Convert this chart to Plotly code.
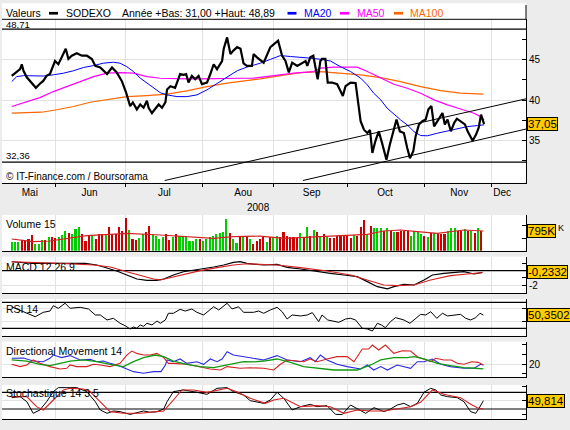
import pandas as pd
import plotly.graph_objects as go

# ------------------------------------------------------------------ data
STOCK = "SODEXO"
YEAR_LOW_TXT, YEAR_HIGH_TXT = "31,00", "48,89"
PERIOD_HIGH = 48.71
PERIOD_LOW = 32.36

# trading-day calendar of the axis (data runs 2008-05-14 .. 2008-11-26)
CALENDAR = pd.bdate_range("2008-05-14", "2008-12-05")
MONTH_NAMES = ["Mai", "Jun", "Jul", "Aou", "Sep", "Oct", "Nov", "Dec"]
MONTH_LABEL_POS = [5.4, 23.2, 45.5, 69.0, 89.4, 111.3, 133.4, 146.2]
YEAR_LABEL = "2008"

# closing price (trading-day index, value)
PRICE_DAY = [0, 1, 2.5, 3, 3.5, 4.5, 6, 7.2, 8.4, 9.4, 10.4, 11.4, 12.9, 13.9, 14.9, 16.1,
             16.9, 17.9, 19.4, 20.9, 22.4, 23.9, 24.9, 26.4, 28.4, 29.9, 31.3, 32.8, 34.1,
             35.3, 36.1, 37.3, 38.3, 39.3, 40.3, 40.8, 41.8, 43.1, 43.8, 44.8, 45.8, 46.3,
             47.3, 48.7, 50.2, 51.2, 52, 52.7, 53.7, 54.7, 55.7, 56.7, 58.2, 59.2, 60.2,
             61.2, 62.7, 63.2, 64.2, 65.2, 66, 67.2, 68.2, 69.1, 70.1, 71.6, 72.1, 73.1,
             75.1, 77.1, 79.4, 80.6, 81.6, 82.6, 83.6, 85.1, 86.6, 87.6, 88.1, 89, 89.9,
             90.6, 91.2, 92, 92.5, 93.5, 94.2, 95.5, 97, 98, 98.7, 99.5, 101, 102.5, 103.2,
             104, 105, 106, 106.8, 107.5, 108.4, 109.4, 110.4, 111.7, 112.7, 113.7, 114.7,
             115.7, 116.9, 117.9, 118.7, 119.7, 120.4, 121.4, 122.4, 123.4, 124.2, 125.1,
             125.9, 126.9, 128.4, 129.1, 129.9, 130.9, 131.9, 132.7, 133.9, 135.1, 135.9,
             137.4, 138.4, 139.2, 139.9, 140.4, 140.8]
PRICE = [42.97, 43.27, 43.8, 44.4, 43.6, 42.8, 42.15, 41.5, 42.0, 42.35, 42.97, 43.2, 44.8,
         44.4, 45.25, 46.3, 45.05, 45.45, 45.75, 45.45, 45.45, 45.05, 44.2, 44.0, 43.2, 44.0,
         43.4, 42.35, 40.9, 39.25, 39.7, 38.85, 39.45, 39.05, 39.9, 39.05, 38.4, 39.05,
         39.45, 39.05, 39.7, 41.3, 41.7, 41.5, 43.2, 43.1, 43.2, 42.15, 42.97, 42.55, 42.97,
         41.95, 42.15, 43.2, 44.4, 43.8, 44.8, 46.3, 47.7, 45.65, 46.05, 46.5, 46.3, 44.5,
         44.2, 44.2, 45.65, 45.25, 44.6, 46.5, 47.3, 45.45, 44.8, 43.4, 44.6, 44.2, 44.6,
         44.8, 44.2, 45.25, 45.45, 44.0, 42.55, 44.8, 45.05, 45.05, 42.15, 42.15, 41.95,
         41.1, 40.5, 41.7, 42.15, 42.1, 39.9, 37.4, 36.35, 35.95, 36.3, 33.5, 34.95, 36.15,
         34.7, 32.65, 34.5, 36.15, 37.6, 36.15, 35.95, 34.1, 32.85, 33.7, 35.55, 37.0, 37.4,
         37.6, 38.85, 39.25, 36.75, 37.4, 38.4, 37.0, 37.6, 36.15, 37.2, 37.7, 37.4, 37.0,
         36.15, 35.0, 35.75, 36.6, 38.2, 37.6, 37.05]

MA20_DAY = [0, 1.5, 3.5, 6.4, 9.4, 12.4, 15.4, 18.4, 21.4, 24.4, 27.3, 30.3, 32.3, 34.3, 36.3,
            38.3, 40.3, 42.3, 44.3, 46.3, 49.3, 52.2, 55.2, 58.2, 61.2, 64.2, 67.2, 70.1,
            74.1, 77.1, 80.1, 83.1, 86.1, 89, 92, 95, 98, 101, 104, 106, 107.9, 110, 111.9,
            113.9, 115.9, 117.9, 119.9, 121.9, 123.9, 126.9, 129.9, 132.8, 135.8, 138.8, 140.8]
MA20 = [42.27, 42.88, 43.0, 43.0, 42.95, 43.1, 43.3, 43.6, 44.0, 44.24, 44.53, 44.65, 44.53,
        44.1, 43.5, 42.7, 42.07, 41.46, 40.9, 40.63, 40.42, 40.42, 40.63, 41.25, 42.07, 42.88,
        43.6, 44.05, 44.53, 45.0, 45.47, 45.35, 45.27, 45.15, 45.02, 44.8, 44.1, 43.5, 42.7,
        41.86, 40.84, 40.02, 39.0, 38.26, 37.56, 36.94, 36.12, 35.63, 35.6, 35.92, 36.2,
        36.54, 36.73, 36.86, 36.95]

MA50_DAY = [0, 4.5, 8.4, 12.4, 16.4, 20.4, 24.4, 28.4, 32.3, 36.3, 40.3, 44.3, 48.2, 52.2,
            56.2, 60.2, 64.2, 68.1, 72.1, 78.1, 84.1, 90, 92, 96, 103, 106, 110, 113.9, 117.9,
            121.9, 125.9, 129.9, 133.8, 137.8, 139.8, 140.8]
MA50 = [39.2, 39.81, 40.3, 41.04, 41.65, 42.27, 42.88, 43.3, 43.38, 43.3, 42.88, 42.68, 42.6,
        42.6, 42.6, 42.6, 42.6, 42.68, 42.7, 43.0, 43.3, 43.5, 43.92, 44.04, 44.04, 43.5,
        42.68, 41.94, 41.45, 40.84, 40.02, 39.4, 38.9, 38.38, 37.96, 37.56]

MA100_DAY = [0, 8.9, 13.4, 18.4, 23.4, 28.4, 34.3, 40.3, 46.3, 52.2, 58.2, 64.2, 71.1, 74.1,
             80.1, 86.1, 92, 98, 104, 110, 115.9, 121.9, 127.9, 133.8, 137.8, 140.6]
MA100 = [38.38, 38.5, 38.8, 39.2, 39.73, 40.02, 40.42, 40.55, 40.72, 41.13, 41.65, 42.07,
         42.4, 42.6, 43.0, 43.38, 43.5, 43.3, 43.1, 42.76, 42.27, 41.65, 41.16, 40.84,
         40.72, 40.72]

# support / resistance channel drawn on the price panel (day, price)
CHANNEL_UPPER_DAY, CHANNEL_UPPER = [45.6, 153.3], [30.1, 40.15]
CHANNEL_LOWER_DAY, CHANNEL_LOWER = [86.8, 153.3], [30.1, 36.43]

# daily volume in thousands of shares, 1 = up day (green), 0 = down day (red)
VOLUME_K = [366, 366, 366, 433, 433, 460, 636, 271, 271, 433, 433, 541, 541, 501, 568, 636,
            811, 703, 676, 865, 973, 676, 406, 595, 636, 460, 676, 676, 676, 973, 676, 676,
            973, 811, 1311, 838, 460, 433, 501, 676, 771, 1000, 676, 595, 460, 541, 676, 433,
            568, 676, 595, 595, 568, 406, 406, 460, 460, 406, 460, 541, 595, 676, 730, 771,
            1270, 730, 460, 325, 541, 595, 541, 460, 271, 406, 460, 568, 366, 541, 568, 595,
            568, 771, 595, 568, 541, 501, 703, 501, 973, 595, 838, 771, 568, 676, 568, 501,
            501, 595, 636, 636, 595, 501, 636, 595, 973, 1243, 676, 1000, 906, 906, 906, 811,
            906, 811, 771, 771, 811, 811, 811, 595, 811, 771, 676, 595, 541, 730, 730, 676,
            676, 676, 811, 906, 906, 811, 811, 865, 811, 811, 730, 906, 795]
VOLUME_UP = [1, 1, 1, 0, 0, 0, 0, 1, 1, 1, 0, 1, 0, 0, 1, 1, 1, 0, 1, 1, 1, 0, 0, 0, 1, 0, 0,
             0, 1, 0, 0, 0, 0, 0, 0, 1, 0, 0, 1, 1, 0, 0, 1, 1, 1, 1, 0, 0, 1, 0, 1, 1, 1, 1,
             1, 1, 0, 1, 1, 1, 1, 1, 1, 1, 1, 0, 1, 1, 0, 1, 0, 1, 0, 0, 0, 0, 1, 0, 1, 1, 0,
             0, 0, 0, 0, 0, 1, 0, 1, 0, 1, 0, 1, 0, 1, 0, 0, 0, 0, 0, 0, 0, 1, 0, 0, 0, 1, 0,
             1, 1, 1, 0, 1, 0, 1, 0, 0, 0, 0, 1, 1, 1, 1, 0, 1, 0, 1, 0, 0, 0, 1, 1, 1, 0, 0,
             1, 0, 1, 0, 1, 0]
VOL_MA_DAY = [0, 6.4, 11.4, 16.4, 22.4, 29.3, 34.3, 44.3, 52.2, 60.2, 66.1, 74.1, 81.1, 91,
              99, 106, 110.9, 115.9, 120.9, 126.9, 134.8, 140.6]
VOL_MA_K = [473, 364, 393, 500, 607, 664, 704, 636, 567, 500, 567, 590, 500, 567, 607, 664,
            797, 838, 770, 703, 838, 797]

MACD_DAY = [0, 2.5, 6.4, 11.4, 16.4, 21.9, 25.4, 28.4, 31.3, 34.3, 37.3, 40.3, 43.3, 45.3,
            48.2, 51.2, 54.2, 57.2, 60.2, 63.2, 66.1, 68.1, 70.1, 72.1, 75.1, 79.1, 82.1,
            86.1, 91, 95, 99, 103, 106, 109, 112, 113.9, 116.9, 119.9, 122.9, 125.4, 128.8,
            132.8, 134.8, 137.8, 140.3]
MACD = [1.23, 1.15, 1.01, 1.01, 1.01, 1.01, 0.78, 0.41, -0.04, -0.59, -1.14, -1.32, -1.32,
        -1.14, -0.59, -0.14, 0.05, 0.23, 0.51, 0.78, 1.15, 1.23, 1.01, 0.9, 0.78, 0.87, 0.46,
        0.23, -0.04, -0.36, -0.59, -0.82, -1.5, -2.19, -2.5, -2.19, -1.87, -1.96, -1.27,
        -0.59, -0.36, -0.27, -0.14, -0.45, -0.2332]
SIGNAL_DAY = [0, 6.4, 16.4, 24.4, 29.4, 34.3, 38.3, 42.3, 44.3, 48.2, 52.2, 56.2, 61.2, 66.1,
              70.1, 74.1, 79.1, 86.1, 94, 101, 106, 110.9, 114.9, 119.9, 124.9, 130.8, 135.8,
              140.3]
SIGNAL = [1.23, 1.15, 0.96, 0.78, 0.51, -0.14, -0.68, -1.14, -1.27, -0.82, -0.36, 0.0, 0.41,
          0.78, 0.95, 0.87, 0.78, 0.41, -0.04, -0.59, -1.27, -1.96, -2.05, -1.96, -1.27,
          -0.68, -0.45, -0.27]

RSI_DAY = [0, 3.5, 7, 9.4, 11.4, 12.4, 13.9, 15.9, 17.4, 20.4, 22.9, 24.9, 26.4, 28.4, 30.3,
           32.3, 33.8, 35.3, 36.3, 37.3, 38.3, 39.3, 40.3, 41.8, 43.3, 44.3, 45.8, 46.7, 48.2,
           50.2, 51.7, 53.7, 55.2, 57.2, 58.7, 60.2, 61.7, 64.2, 65.7, 67.6, 69.1, 72.1,
           73.6, 75.1, 77.1, 79.1, 80.6, 82.1, 83.6, 86.1, 88.1, 89.6, 91.5, 92.5, 94.2,
           97.5, 99.5, 101, 102.5, 104.5, 106, 107.5, 109, 110.2, 111.4, 112.9, 114.4, 116.9,
           118.7, 120.4, 121.9, 123.4, 124.9, 126.7, 128.4, 129.9, 133.8, 135.3, 136.8,
           138.3, 139.6, 140.6]
RSI = [63.2, 55.5, 47.8, 54.6, 56.6, 64.8, 60.8, 68.5, 60.8, 62.3, 59.7, 50.5, 50.5, 42.8,
       45.4, 37.7, 34.0, 28.9, 32.0, 30.0, 35.1, 33.0, 37.7, 35.1, 41.2, 37.7, 42.8, 53.1,
       53.1, 59.2, 56.6, 59.7, 54.6, 50.5, 56.6, 63.2, 58.2, 68.5, 59.7, 63.2, 54.6, 54.6,
       56.6, 53.1, 58.2, 62.3, 55.5, 44.3, 50.5, 49.0, 50.5, 54.1, 40.2, 50.5, 42.8, 39.2,
       44.3, 45.4, 42.8, 30.0, 29.0, 25.8, 37.7, 35.1, 31.0, 40.2, 46.4, 42.8, 37.7, 45.4,
       51.5, 50.5, 55.5, 45.4, 53.1, 49.0, 51.5, 45.4, 42.8, 46.4, 53.1, 50.3502]

DI_PLUS_DAY = [0, 3.5, 6.4, 9.4, 11.4, 12.4, 14.9, 17.4, 20.4, 23.4, 25.4, 27.3, 29.3, 31.3,
               33.8, 36.3, 39.3, 42.3, 44.5, 45.8, 46.3, 48.2, 50.2, 52.2, 55.2, 57.2, 59.2,
               61.2, 62.7, 64.2, 66.1, 69.1, 72.1, 75.1, 79.1, 82.1, 86.1, 89, 90.5, 92, 94,
               97, 100, 104, 106, 107.9, 110, 112, 114.9, 117.4, 118.9, 120.9, 122.9, 125.4,
               127.9, 130.8, 134.8, 137.8, 139.8, 140.6]
DI_PLUS = [26.2, 26.5, 23.4, 22.7, 26.2, 29.6, 26.9, 29.0, 24.5, 25.2, 22.7, 23.4, 21.0,
           19.3, 15.9, 12.4, 10.7, 12.4, 12.4, 19.3, 24.5, 22.7, 25.5, 21.0, 22.7, 20.0,
           25.5, 22.7, 25.5, 33.0, 29.6, 27.9, 25.5, 24.5, 29.0, 24.5, 22.7, 26.9, 22.7,
           29.6, 24.5, 20.0, 17.6, 15.2, 19.3, 14.1, 17.6, 14.1, 19.3, 17.6, 15.9, 22.7,
           22.7, 25.5, 20.0, 17.6, 15.9, 15.9, 20.0, 19.3]
DI_MINUS_DAY = [0, 2.5, 4.5, 6.4, 8.4, 11.4, 14.4, 16.4, 17.4, 19.4, 22.4, 24.4, 26.4, 29.3,
                32.3, 34.3, 35.8, 37.3, 39.3, 41.3, 43.3, 45.3, 46.7, 48.2, 52.2, 55.2, 59.2,
                62.2, 64.2, 68.1, 71.1, 75.1, 78.1, 80.1, 82.1, 85.1, 87, 89, 91, 94, 97, 100,
                102, 104.5, 106.4, 107.5, 109.4, 111.4, 113.9, 116.4, 118.9, 120.9, 122.9,
                124.9, 126.4, 128.8, 131, 132.8, 134.8, 137.1, 139.1, 140.6]
DI_MINUS = [20.0, 17.6, 19.3, 24.5, 21.0, 17.6, 15.2, 15.9, 19.3, 17.6, 17.6, 20.0, 19.3,
            17.6, 21.0, 29.6, 33.7, 31.3, 29.6, 29.6, 31.3, 26.9, 21.0, 21.0, 20.0, 17.6,
            15.2, 14.1, 17.6, 15.9, 16.5, 15.9, 14.1, 20.0, 24.5, 23.4, 22.7, 25.5, 22.7,
            25.5, 27.9, 27.9, 22.7, 35.8, 35.8, 39.9, 34.8, 39.9, 31.3, 34.1, 33.7, 27.9,
            25.5, 22.7, 26.2, 24.5, 24.5, 21.0, 20.0, 22.7, 22.0, 19.3]
ADX_DAY = [0, 4.5, 8.4, 11.4, 14.4, 17.4, 21.4, 25.4, 29.3, 33.3, 36.3, 39.3, 42.8, 45.3,
           48.2, 52.2, 56.2, 60.2, 63.2, 66.1, 69.1, 72, 75.1, 79.1, 83.1, 87, 91, 96, 103,
           107, 110, 113.9, 117.9, 119.9, 122.9, 126.9, 130.8, 134.8, 138.1, 140.6]
ADX = [24.5, 23.4, 20.0, 18.6, 21.0, 23.4, 24.5, 22.7, 20.0, 17.6, 22.7, 26.9, 29.6, 27.9,
       23.4, 20.0, 17.6, 16.6, 18.6, 21.0, 22.7, 22.5, 23.4, 25.5, 22.0, 17.6, 15.9, 14.1,
       14.1, 19.3, 24.5, 26.9, 26.9, 27.9, 25.5, 21.0, 18.6, 16.6, 15.9, 15.2]

STO_K_DAY = [0, 2.5, 4.5, 6.4, 8.4, 10.4, 12.4, 13.9, 16.4, 19.4, 22.4, 24.9, 26.4, 28.4,
             30.3, 32.3, 35.3, 37.3, 39.3, 41.3, 43.3, 45.3, 46.3, 48.2, 51.2, 54.2, 58.2,
             61.2, 64.2, 66.1, 69.1, 71.1, 73.1, 75.1, 77.1, 79.1, 81.1, 83.6, 86.1, 89, 91,
             94, 96.5, 98.5, 101, 103, 105.5, 108, 111, 112.9, 114.9, 116.9, 118.9, 120.9,
             122.9, 124.9, 126.4, 127.9, 129.9, 132.8, 134.8, 136.8, 138.3, 139.3, 140.6]
STO_K = [60.8, 64.4, 46.4, 4.5, 16.5, 46.4, 82.4, 96.8, 96.8, 96.8, 82.4, 46.4, 16.5, 4.5,
         12.9, 10.5, 0.5, 8.1, 12.9, 8.1, 10.5, 20.0, 46.4, 82.4, 88.4, 82.4, 72.8, 94.4,
         96.8, 82.4, 70.4, 50.0, 44.0, 40.4, 52.4, 80.0, 58.4, 16.5, 28.4, 36.8, 28.4, 32.0,
         1.0, 0.0, 34.4, 20.0, 4.5, 24.8, 10.5, 20.0, 34.4, 40.4, 28.4, 40.4, 80.0, 94.4,
         88.4, 70.4, 64.4, 60.8, 46.4, 10.5, 4.5, 22.4, 49.814]
STO_D_DAY = [0, 4.5, 7.4, 9.4, 12.4, 15.4, 17.4, 21.4, 23.4, 26.4, 29.3, 33.3, 38.3, 43.3,
             45.3, 48.2, 50.7, 54.2, 58.2, 64.2, 67.1, 71.1, 74.1, 75.6, 78.1, 81.1, 86.1, 91,
             95, 99, 103, 107, 111, 114.9, 118.9, 121.9, 125.4, 128.8, 133.8, 136.8, 138.8,
             140.6]
STO_D = [64.4, 64.4, 28.4, 16.5, 52.4, 88.4, 94.4, 92.0, 82.4, 46.4, 10.5, 4.5, 4.5, 10.5,
         12.9, 52.4, 88.4, 88.4, 80.0, 94.4, 82.4, 58.4, 46.4, 40.4, 52.4, 58.4, 28.4, 32.0,
         28.4, 4.5, 16.5, 12.9, 12.9, 20.0, 28.4, 44.0, 88.4, 72.8, 60.8, 36.8, 24.8, 20.0]

LAST_PRICE_TXT = "37,05"
LAST_VOLUME_TXT = "795K"
LAST_MACD_TXT = "-0,2332"
LAST_RSI_TXT = "50,3502"
LAST_STO_TXT = "49,814"

# ------------------------------------------------------------------ style
W, H = 570, 430
FONT = "Liberation Sans, Arial, sans-serif"
BG = "#ececec"
GRID = "#e2e2e2"
BADGE = "#ffcc00"
BLACK = "#000000"
BLUE = "#0000ff"
MAGENTA = "#ff00ff"
ORANGE = "#ff6600"
UP = "#00cc00"
DOWN = "#cc0000"
RED = "#d42020"
DMBLUE = "#2a2ae0"
DMGREEN = "#119911"

def fx(p):
    return p / W

def fy(p):
    return 1 - p / H

PX_L, PX_R = 2, 526
X_RANGE = [-2.9, 153.3]
PANELS = {  # top px, bottom px, y range
    "": (19.3, 182.7, [29.83, 49.93]),
    "2": (215.0, 250.7, [0, 1445]),
    "3": (256.7, 293.3, [-3.1, 1.92]),
    "4": (299.0, 335.7, [18.6, 75.1]),
    "5": (341.7, 377.3, [6.55, 43.4]),
    "6": (385.0, 419.3, [-17, 106.3]),
}

month_bounds = [i for i in range(1, len(CALENDAR))
                if CALENDAR[i].month != CALENDAR[i - 1].month]

fig = go.Figure()

def line(xs, ys, color, width, ax):
    fig.add_trace(go.Scatter(x=xs, y=ys, mode="lines", line=dict(color=color, width=width),
                             xaxis="x" + ax, yaxis="y" + ax, hoverinfo="skip"))

# reference levels drawn as lines through the axes (value, axis)
def level(val, ax):
    line(list(X_RANGE), [val, val], BLACK, 1.2, ax)

# price panel
level(PERIOD_HIGH, "")
level(PERIOD_LOW, "")
line(MA100_DAY, MA100, ORANGE, 1.2, "")
line(MA50_DAY, MA50, MAGENTA, 1.2, "")
line(MA20_DAY, MA20, BLUE, 1, "")
line(CHANNEL_UPPER_DAY, CHANNEL_UPPER, BLACK, 1, "")
line(CHANNEL_LOWER_DAY, CHANNEL_LOWER, BLACK, 1, "")
line(PRICE_DAY, PRICE, BLACK, 2.2, "")

# volume panel
fig.add_trace(go.Bar(x=list(range(len(VOLUME_K))), y=VOLUME_K, width=0.62,
                     marker=dict(color=[UP if u else DOWN for u in VOLUME_UP], line=dict(width=0)),
                     xaxis="x2", yaxis="y2", hoverinfo="skip"))
line(VOL_MA_DAY, VOL_MA_K, RED, 1.2, "2")

# MACD
level(0, "3")
line(MACD_DAY, MACD, BLACK, 1.2, "3")
line(SIGNAL_DAY, SIGNAL, RED, 1.2, "3")

# RSI
level(70, "4")
level(30, "4")
line(RSI_DAY, RSI, BLACK, 1, "4")

# directional movement
line(DI_PLUS_DAY, DI_PLUS, DMBLUE, 1.1, "5")
line(DI_MINUS_DAY, DI_MINUS, RED, 1.1, "5")
line(ADX_DAY, ADX, DMGREEN, 1.3, "5")

# stochastics
level(80, "6")
level(20, "6")
line(STO_K_DAY, STO_K, BLACK, 1, "6")
line(STO_D_DAY, STO_D, RED, 1.1, "6")

# ------------------------------------------------------------------ axes
# (tick values, tick labels, minor ticks, gridlines); labels hidden behind the
# value badges in the original are left blank
Y_TICKS = {
    "": ([35, 40, 45], ["35", "40", "45"], [32.5, 37.5, 42.5, 47.5], True),
    "2": ([1000], [""], [500], False),
    "3": ([-2, 0], ["-2", ""], [-1, 1], True),
    "4": ([40, 60], ["", ""], [], True),
    "5": ([20], ["20"], [10, 30, 40], True),
    "6": ([50], [""], [0, 100], True),
}

layout_axes = {}
for ax, (top, bottom, yr) in PANELS.items():
    main = ax == ""
    layout_axes["xaxis" + ax] = dict(
        domain=[fx(PX_L), fx(PX_R)], range=X_RANGE, anchor="y" + ax,
        showline=True, linecolor=BLACK, linewidth=1, zeroline=False, showgrid=False,
        tickmode="array", tickvals=MONTH_LABEL_POS, ticktext=MONTH_NAMES, ticks="",
        showticklabels=main, tickfont=dict(family=FONT, size=10, color=BLACK),
        minor=dict(tickmode="array", tickvals=month_bounds,
                   ticks="outside" if main else "", ticklen=3, tickcolor=BLACK,
                   showgrid=True, gridcolor=GRID, gridwidth=1),
        fixedrange=True)
    tv, tt, mv, grid = Y_TICKS[ax]
    layout_axes["yaxis" + ax] = dict(
        domain=[fy(bottom), fy(top)], range=yr, anchor="x" + ax, side="right",
        showline=True, linecolor=BLACK, linewidth=1,
        ticks="inside", ticklen=4, tickcolor=BLACK,
        tickmode="array", tickvals=tv, ticktext=tt,
        tickfont=dict(family=FONT, size=10, color=BLACK),
        showgrid=grid, gridcolor=GRID, gridwidth=1, zeroline=False,
        minor=dict(tickmode="array", tickvals=mv, ticks="inside", ticklen=4,
                   tickcolor=BLACK, showgrid=False),
        fixedrange=True)

# ------------------------------------------------------------------ shapes
shapes = [
    # header strip above the price panel
    dict(type="rect", xref="paper", yref="paper", x0=fx(PX_L), x1=fx(PX_R),
         y0=fy(19.3), y1=fy(3.3), fillcolor="white", line=dict(width=0), layer="below"),
    dict(type="line", xref="paper", yref="paper", x0=fx(PX_L), x1=fx(PX_R),
         y0=fy(19.3), y1=fy(19.3), line=dict(color=BLACK, width=1), layer="above"),
    dict(type="line", xref="paper", yref="paper", x0=fx(PX_R), x1=fx(PX_R),
         y0=fy(19.3), y1=fy(5), line=dict(color=BLACK, width=1), layer="above"),
]

# ------------------------------------------------------------------ texts
ann = []

def text(x, y, s, size=10.5, color=BLACK, xanchor="left"):
    ann.append(dict(x=fx(x), y=fy(y), xref="paper", yref="paper", text=s, showarrow=False,
                    xanchor=xanchor, yanchor="middle",
                    font=dict(family=FONT, size=size, color=color)))

# header legend
text(3.5, 13.3, "Valeurs")
text(63.5, 13.3, STOCK)
text(119.5, 13.3, "Année +Bas: %s +Haut: %s" % (YEAR_LOW_TXT, YEAR_HIGH_TXT))
text(301.5, 13.3, "MA20", color=BLUE)
text(354.5, 13.3, "MA50", color=MAGENTA)
text(408, 13.3, "MA100", color=ORANGE)
for x0, col in [(49, BLACK), (287.5, BLUE), (340, MAGENTA), (394, ORANGE)]:
    shapes.append(dict(type="rect", xref="paper", yref="paper", x0=fx(x0), x1=fx(x0 + 9),
                       y0=fy(14.6), y1=fy(11.9), fillcolor=col, line=dict(width=0),
                       layer="above"))

text(3.5, 24.3, ("%.2f" % PERIOD_HIGH).replace(".", ","), size=9.5)
text(3.5, 155, ("%.2f" % PERIOD_LOW).replace(".", ","), size=9.5)
text(3.5, 176, "© IT-Finance.com / Boursorama", size=10)
text(258, 207, YEAR_LABEL, size=10, xanchor="center")

text(3.5, 224.3, "Volume 15")
text(3.5, 266.7, "MACD 12 26 9")
text(3.5, 309, "RSI 14")
text(3.5, 350.7, "Directional Movement 14")
text(3.5, 392.7, "Stochastique 14 3 5")

# trailing "K" of the volume-axis label that peeks out from behind the badge
text(555.5, 227.5, "K", size=9)

def badge(s, yval, yref):
    ann.append(dict(x=fx(526.6), xref="paper", xanchor="left", y=yval, yref=yref,
                    yanchor="middle", text=s, showarrow=False, bgcolor=BADGE,
                    bordercolor=BLACK, borderwidth=1, borderpad=0,
                    font=dict(family=FONT, size=11.5, color=BLACK)))

badge(LAST_PRICE_TXT, PRICE[-1], "y")
badge(LAST_VOLUME_TXT, VOLUME_K[-1], "y2")
badge(LAST_MACD_TXT, MACD[-1], "y3")
badge(LAST_RSI_TXT, RSI[-1], "y4")
badge(LAST_STO_TXT, STO_K[-1], "y6")

fig.update_layout(
    width=W, height=H, margin=dict(l=0, r=0, t=0, b=0),
    paper_bgcolor=BG, plot_bgcolor="white", showlegend=False,
    font=dict(family=FONT, size=10, color=BLACK),
    shapes=shapes, annotations=ann, bargap=0,
    **layout_axes)

fig.write_html("out.html", config={"displayModeBar": False},
               post_script="document.body.style.margin='0';document.body.style.overflow='hidden';")
